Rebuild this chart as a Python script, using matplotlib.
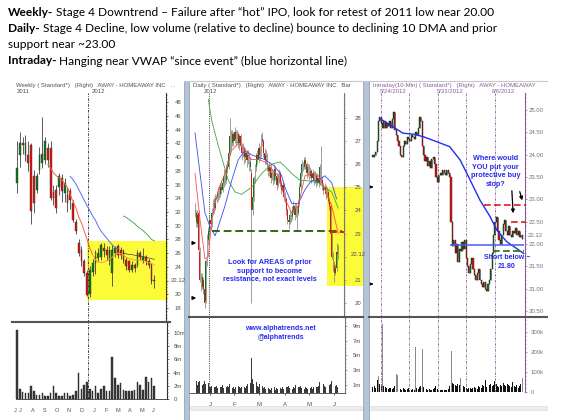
import matplotlib
matplotlib.use('Agg')
import matplotlib.pyplot as plt
import numpy as np
from matplotlib.patches import Rectangle, FancyArrowPatch
from matplotlib.lines import Line2D
from matplotlib.transforms import IdentityTransform
from matplotlib.ticker import MultipleLocator

# ---------------- DATA ----------------
# Weekly OHLC (Jul 2011 - Jun 2012)
w_open = [36.2, 40.3, 42.0, 40.3, 40.3, 41.8, 37.2, 35.2, 38.1, 39.1, 39.6, 41.3, 41.3, 34.9, 35.2, 35.7, 36.9,
          34.7, 34.5, 35.0, 33.3, 30.6, 27.5, 26.5, 24.8, 23.1, 20.0, 23.3, 24.6, 25.3, 25.5, 26.7, 26.5, 24.8,
          23.1, 26.0, 27.0, 26.5, 26.3, 25.0, 24.8, 23.6, 24.3, 24.3, 26.0, 24.8, 25.5, 24.8, 24.3, 21.9]
w_high = [42.3, 43.7, 43.0, 43.2, 42.3, 42.0, 38.1, 37.7, 41.5, 45.8, 43.0, 42.0, 42.3, 36.0, 36.0, 37.7, 37.5,
          37.0, 35.7, 35.5, 33.8, 31.0, 28.0, 27.0, 25.2, 23.6, 24.1, 25.2, 26.5, 26.7, 27.5, 27.5, 27.0, 27.0,
          27.2, 27.0, 27.3, 26.9, 26.6, 25.5, 25.0, 24.8, 24.6, 26.4, 26.3, 26.8, 25.8, 25.2, 24.6, 22.8]
w_low = [34.7, 38.6, 40.5, 39.5, 38.0, 30.3, 31.8, 34.7, 37.5, 38.4, 39.0, 38.6, 33.8, 33.0, 31.8, 34.5, 33.5,
         33.5, 32.0, 32.5, 30.6, 28.8, 25.6, 24.1, 22.6, 19.7, 19.6, 22.6, 23.0, 24.8, 25.0, 25.5, 25.0, 24.3,
         21.2, 25.5, 25.3, 25.2, 24.6, 23.6, 23.3, 23.3, 23.3, 24.0, 25.0, 24.6, 24.3, 23.8, 21.5, 20.9]
w_close = [38.4, 42.0, 41.8, 42.0, 39.1, 32.1, 33.3, 37.2, 40.3, 40.5, 42.3, 39.6, 34.0, 34.0, 32.6, 37.2, 35.0,
           36.2, 33.3, 33.8, 30.9, 29.2, 26.0, 24.8, 23.1, 19.9, 23.6, 24.6, 25.5, 26.0, 27.2, 26.3, 25.8, 26.5,
           26.5, 26.7, 25.8, 25.8, 25.0, 24.1, 23.6, 24.3, 23.8, 26.0, 25.5, 25.5, 24.8, 24.3, 21.9, 22.12]
w_volume_m = [10.5, 1.5, 1.0, 0.9, 0.9, 1.9, 1.25, 0.55, 0.6, 0.9, 0.45, 0.4, 0.9, 1.9, 0.9, 0.5, 0.4, 0.9,
              0.9, 0.5, 0.65, 1.15, 3.9, 1.55, 2.15, 2.65, 1.55, 1.25, 1.9, 0.9, 1.5, 2.0, 1.25, 1.15, 6.4,
              3.15, 2.15, 2.4, 1.4, 1.15, 1.25, 1.25, 1.4, 2.65, 2.15, 1.4, 3.4, 2.65, 3.15, 1.9]
# weekly moving averages (index of first value, values)
w_ma_red_start = 11
w_ma_red = [38.9, 38.4, 37.7, 37.3, 37.0, 36.7, 36.1, 35.6, 34.5, 33.5, 32.6, 31.3, 30.4, 29.2, 28.0, 26.7, 25.8]
w_ma_orange_start = 27
w_ma_orange = [25.8, 25.0, 24.7, 24.6, 24.7, 24.9, 25.1, 25.4, 25.8, 26.0, 25.9, 25.7, 25.4, 25.2, 25.1, 25.0,
               25.0, 25.0, 24.9, 24.8, 24.6, 24.5, 24.3]
w_ma_blue_start = 19
w_ma_blue = [37.2, 36.7, 36.1, 35.3, 34.5, 33.7, 32.9, 32.2, 31.4, 30.8, 29.9, 29.2, 28.7, 28.2, 27.7, 27.2,
             26.8, 26.6]
w_ma_dark_start = 38
w_ma_dark = [26.0, 25.9, 25.8, 25.8, 25.7, 25.6, 25.6, 25.5, 25.4, 25.3, 25.2, 25.1]
w_ma_green_start = 38
w_ma_green = [31.4, 31.2, 30.9, 30.6, 30.3, 29.9, 29.6, 29.3, 28.9, 28.5, 28.0, 27.8]
w_price_ticks = [18, 20, 22, 24, 26, 28, 30, 32, 34, 36, 38, 40, 42, 44, 46, 48]
w_price_labels = ["18", "20", "", "24", "26", "28", "30", "32", "34", "36", "38", "40", "42", "44", "46", "48"]
w_vol_ticks = [0, 2, 4, 6, 8, 10]
w_vol_labels = ["0", "2m", "4m", "6m", "8m", "10m"]
w_month_labels = ["J", "J", "A", "S", "O", "N", "D", "J", "F", "M", "A", "M", "J"]
w_month_pos = [-0.5, 1.0, 5.5, 10.0, 14.3, 18.5, 23.0, 27.4, 31.8, 36.0, 40.3, 44.6, 48.8]

# Daily OHLC (mid Dec 2011 - Jun 2012)
d_open = [24.1, 23.9, 23.4, 23.9, 22.2, 21.1, 20.7, 21.0, 20.6, 20.1, 21.8, 22.7, 23.1, 23.6, 23.4, 23.9, 24.3,
          24.1, 24.5, 24.6, 24.8, 24.7, 25.0, 24.9, 25.2, 25.5, 25.3, 25.8, 25.9, 26.5, 27.2, 26.9, 27.3, 27.0,
          27.4, 27.1, 27.3, 26.9, 27.2, 26.8, 26.5, 26.7, 26.3, 26.5, 26.2, 26.4, 25.9, 25.6, 24.0, 24.6, 25.4,
          25.9, 26.4, 26.2, 26.7, 26.4, 27.1, 27.0, 26.5, 26.2, 26.4, 25.9, 25.7, 25.9, 25.4, 25.6, 25.3, 25.8,
          25.5, 25.1, 25.4, 25.6, 25.2, 24.9, 25.1, 24.6, 24.5, 24.0, 23.6, 23.5, 23.8, 23.7, 24.0, 24.2, 23.8,
          24.1, 23.9, 24.3, 25.0, 25.6, 26.0, 25.9, 26.2, 26.0, 25.6, 25.9, 25.5, 25.7, 25.4, 25.6, 25.3, 25.5,
          25.2, 25.4, 25.2, 26.4, 25.3, 25.1, 24.9, 25.0, 24.7, 24.8, 24.4, 24.2, 23.0, 22.0, 21.6, 21.3, 21.5,
          22.2]
d_high = [24.3, 24.0, 24.0, 24.0, 22.4, 21.3, 21.3, 21.1, 20.8, 21.9, 23.0, 23.3, 23.8, 23.8, 24.1, 24.5, 24.6,
          24.7, 24.8, 25.0, 25.1, 25.2, 25.3, 25.4, 25.8, 25.7, 26.0, 26.2, 26.8, 28.0, 27.5, 27.5, 27.4, 27.6,
          27.5, 27.5, 27.4, 27.3, 27.3, 26.9, 26.9, 26.8, 26.7, 26.6, 26.6, 26.5, 26.3, 25.8, 24.8, 25.5, 26.0,
          26.5, 26.6, 26.9, 26.8, 27.3, 27.4, 27.1, 26.7, 26.6, 26.5, 26.0, 26.1, 26.0, 25.8, 25.7, 26.0, 25.9,
          25.6, 25.6, 25.8, 25.7, 25.3, 25.3, 25.2, 24.8, 24.6, 24.1, 23.8, 24.0, 23.9, 24.2, 24.4, 24.3, 24.3,
          24.2, 24.5, 25.2, 25.8, 26.2, 26.1, 26.3, 26.3, 26.1, 26.0, 26.0, 25.9, 25.8, 25.8, 25.7, 25.7, 25.6,
          25.6, 25.5, 26.0, 26.8, 25.5, 25.2, 25.2, 25.1, 25.0, 24.9, 24.6, 24.3, 23.1, 22.2, 21.8, 21.7, 22.6,
          22.5]
d_low = [23.7, 23.3, 23.3, 22.2, 20.9, 20.5, 20.6, 20.4, 19.8, 20.0, 21.6, 22.5, 22.9, 23.2, 23.3, 23.8, 23.9,
         24.0, 24.3, 24.4, 24.5, 24.6, 24.7, 24.8, 25.0, 25.1, 25.2, 25.6, 25.8, 26.4, 26.6, 26.8, 26.8, 26.9,
         26.8, 26.9, 26.7, 26.6, 26.6, 26.2, 26.3, 26.0, 26.1, 25.9, 26.0, 25.7, 25.7, 20.0, 23.8, 24.4, 25.2,
         25.7, 26.0, 26.1, 26.2, 26.3, 26.8, 26.3, 26.0, 26.0, 25.7, 25.5, 25.5, 25.2, 25.3, 25.1, 25.2, 25.3,
         24.9, 25.0, 25.2, 25.0, 24.7, 24.8, 24.4, 24.3, 23.8, 23.4, 23.2, 23.4, 23.5, 23.6, 23.9, 23.6, 23.7,
         23.1, 23.8, 24.2, 24.9, 25.5, 25.7, 25.8, 25.8, 25.4, 25.5, 25.3, 25.4, 25.2, 25.3, 25.1, 25.2, 25.0,
         25.1, 25.0, 25.1, 25.2, 24.9, 24.7, 24.8, 24.5, 24.6, 24.3, 24.0, 22.9, 21.9, 21.4, 20.9, 21.2, 21.4,
         21.9]
d_close = [23.9, 23.5, 23.8, 22.3, 21.0, 20.7, 21.1, 20.6, 20.0, 21.8, 22.8, 23.1, 23.6, 23.4, 23.9, 24.3, 24.1,
           24.5, 24.6, 24.8, 24.7, 25.0, 24.9, 25.2, 25.5, 25.3, 25.8, 25.9, 26.5, 27.2, 26.9, 27.3, 27.0, 27.4,
           27.1, 27.3, 26.9, 27.2, 26.8, 26.5, 26.7, 26.3, 26.5, 26.2, 26.4, 25.9, 26.1, 24.0, 24.6, 25.4, 25.9,
           26.4, 26.2, 26.7, 26.4, 27.1, 27.0, 26.5, 26.2, 26.4, 25.9, 25.7, 25.9, 25.4, 25.6, 25.3, 25.8, 25.5,
           25.1, 25.4, 25.6, 25.2, 24.9, 25.1, 24.6, 24.5, 24.0, 23.6, 23.5, 23.8, 23.7, 24.0, 24.2, 23.8, 24.1,
           23.9, 24.3, 25.0, 25.6, 26.0, 25.9, 26.2, 26.0, 25.6, 25.9, 25.5, 25.7, 25.4, 25.6, 25.3, 25.5, 25.2,
           25.4, 25.2, 25.9, 25.3, 25.1, 24.9, 25.0, 24.7, 24.8, 24.4, 24.2, 23.0, 22.0, 21.6, 21.3, 21.5, 22.2,
           22.12]
d_volume_m = [1.2, 1.5, 1.0, 1.4, 1.6, 1.3, 1.0, 1.2, 1.5, 1.1, 0.9, 1.3, 0.8, 0.7, 0.9, 0.6, 0.8, 0.7, 0.9,
              0.6, 0.5, 0.8, 0.7, 1.0, 0.6, 0.5, 0.7, 0.9, 0.8, 1.2, 0.9, 0.6, 0.7, 0.5, 0.8, 0.6, 0.9, 0.7,
              0.6, 0.8, 0.5, 0.7, 0.6, 0.9, 1.1, 0.8, 1.3, 4.7, 1.8, 1.2, 1.0, 1.4, 0.9, 0.8, 1.1, 0.7, 0.9,
              0.6, 0.8, 0.5, 0.7, 0.6, 0.5, 0.4, 0.6, 0.5, 0.7, 0.4, 0.6, 0.5, 0.4, 0.6, 0.5, 0.7, 0.5, 0.6,
              0.8, 0.7, 0.9, 0.6, 0.7, 0.5, 0.8, 0.6, 1.0, 1.2, 0.8, 0.7, 0.9, 0.6, 0.8, 0.5, 0.7, 0.6, 0.5,
              0.7, 0.6, 0.8, 0.5, 0.7, 0.6, 0.8, 0.7, 0.9, 1.4, 1.0, 0.8, 1.2, 0.9, 0.8, 1.1, 0.9, 1.0, 1.2,
              1.6, 1.3, 1.1, 0.9, 1.0, 0.8]
# daily moving averages: (day index, value)
d_ma_green_x = [11.1, 13.9, 19.4, 27.8, 33.3, 38.9, 47.2, 55.6, 63.9, 70.8, 75.0, 80.6, 87.5, 91.7, 102.8, 108.3,
                113.9, 119.4]
d_ma_green_y = [28.8, 27.9, 26.8, 25.3, 24.8, 24.7, 25.0, 25.6, 26.0, 26.1, 25.9, 25.6, 25.3, 25.3, 25.2, 25.0,
                24.8, 24.1]
d_ma_blue_x = [0, 4.2, 8.3, 12.5, 16.7, 19.4, 25.0, 30.6, 36.1, 41.7, 47.2, 52.8, 58.3, 66.7, 72.2, 75.0, 80.6,
               86.1, 91.7, 97.2, 102.8, 108.3, 113.9, 118.0]
d_ma_blue_y = [27.35, 25.6, 23.9, 23.3, 22.9, 23.3, 24.2, 25.3, 26.2, 26.6, 26.4, 26.3, 26.2, 25.9, 25.5, 25.0,
               24.3, 24.3, 24.9, 25.3, 25.3, 25.5, 25.2, 24.5]
d_ma_red_x = [0, 4.2, 8.3, 11.1, 13.9, 19.4, 25.0, 30.6, 36.1, 41.7, 47.2, 52.8, 58.3, 63.9, 69.4, 75.0, 80.6,
              86.1, 91.7, 97.2, 102.8, 108.3, 113.9, 119.4]
d_ma_red_y = [25.6, 23.6, 21.9, 22.0, 23.6, 24.9, 25.6, 26.6, 26.9, 26.6, 26.2, 26.2, 26.1, 25.8, 25.5, 24.5,
              23.9, 24.2, 25.5, 25.6, 25.5, 24.9, 24.2, 23.0]
d_price_ticks = [20, 21, 22, 23, 24, 25, 26, 27, 28]
d_price_labels = ["20", "21", "", "23", "24", "25", "26", "27", "28"]
d_vol_ticks = [1, 3, 5, 7, 9]
d_vol_labels = ["1m", "3m", "5m", "7m", "9m"]
d_month_labels = ["J", "F", "M", "A", "M", "J"]
d_month_pos = [12.5, 32.5, 53.5, 75.0, 95.0, 116.0]
d_support = 23.13
d_resist = 23.05

# Intraday 10-min (closes, compressed), 5/23 - 6/7/2012
i_close = [23.95, 24.0, 24.05, 24.3, 24.75, 24.85, 24.7, 24.6, 24.75, 24.6, 24.7, 24.65, 24.75, 24.6, 24.8,
           24.95, 24.55, 24.45, 24.3, 24.2, 24.0, 23.95, 24.2, 24.3, 24.25, 24.4, 24.35, 24.3, 24.45, 24.4,
           24.35, 24.5, 24.45, 24.6, 24.85, 24.75, 24.2, 24.0, 23.85, 23.95, 23.75, 23.85, 23.7, 23.9, 23.95,
           23.8, 23.5, 23.4, 23.55, 23.6, 23.55, 23.65, 23.6, 23.55, 23.65, 23.6, 23.5, 22.5, 21.95, 22.1, 21.8,
           22.0, 21.6, 21.9, 21.85, 22.05, 21.9, 22.1, 21.7, 21.5, 21.35, 21.55, 21.7, 21.45, 21.3, 21.2, 21.35,
           21.45, 21.2, 21.1, 21.05, 21.15, 21.0, 20.95, 21.1, 21.2, 21.45, 21.8, 22.2, 22.5, 22.6, 22.3, 22.1,
           22.0, 22.2, 22.45, 22.55, 22.3, 22.2, 22.4, 22.2, 22.15, 22.3, 22.25, 22.35, 22.2, 22.3, 22.15, 22.2,
           22.12]
i_volume_k = [25, 30, 20, 60, 80, 40, 35, 340, 30, 25, 20, 15, 18, 22, 15, 20, 30, 90, 85, 20, 15, 12, 18, 14,
              12, 15, 20, 12, 10, 15, 12, 225, 20, 15, 25, 30, 215, 25, 18, 15, 12, 14, 10, 12, 15, 18, 30, 14,
              12, 10, 12, 8, 10, 12, 9, 15, 30, 205, 45, 40, 35, 30, 40, 35, 70, 40, 30, 25, 20, 15, 18, 22, 15,
              20, 25, 18, 15, 30, 25, 20, 35, 30, 60, 25, 30, 35, 40, 30, 35, 55, 40, 30, 25, 35, 30, 45, 35,
              30, 40, 35, 30, 25, 50, 30, 25, 35, 20, 30, 40, 70]
i_vwap_x = [5, 22, 29.5, 37, 46.6, 56, 63.7, 71, 78, 85.6, 90.5, 97.8, 105, 110]
i_vwap_y = [24.81, 24.48, 24.46, 24.40, 24.29, 24.18, 23.88, 23.43, 22.99, 22.61, 22.31, 22.05, 21.90, 21.79]
i_price_ticks = [20.5, 21.0, 21.5, 22.0, 22.5, 23.0, 23.5, 24.0, 24.5, 25.0]
i_vol_ticks = [0, 100, 200, 300]
i_vol_labels = ["0", "100k", "200k", "300k"]
i_day_sep = [5.8, 26.3, 47.4, 67.9, 89.1]
i_date_labels = ["5/24/2012", "5/31/2012", "6/6/2012"]
i_date_pos = [14.6, 56.2, 95.0]
i_vwap_event = 21.97
i_green_stop = 21.85
i_red_stop1 = 22.87
i_red_stop2 = 22.49
last_price = 22.12

# ---------------- FIGURE ----------------
W, H = 561, 420
fig = plt.figure(figsize=(W / 100, H / 100), dpi=100)
fig.patch.set_facecolor('white')

GREEN = '#0e7a12'
RED = '#e3120f'
GRAY_T = '#505050'
PURPLE = '#8c5a9c'
PURPLE_T = '#7a6a80'
BLUE_T = '#2a2af0'
TF = 'Liberation Sans'


def ax_px(x0, y0, x1, y1):
    a = fig.add_axes([x0 / W, 1 - y1 / H, (x1 - x0) / W, (y1 - y0) / H])
    a.patch.set_alpha(0)
    for s in ['left', 'top', 'bottom']:
        a.spines[s].set_visible(False)
    a.set_xticks([])
    a.yaxis.tick_right()
    return a


def style_y(a, ticks, labels, color, lcolor, minor, pad, length=1.5):
    a.spines['right'].set_color(color)
    a.spines['right'].set_linewidth(0.8)
    a.set_yticks(ticks)
    a.set_yticklabels(labels, fontsize=4.3, color=lcolor, family=TF)
    a.yaxis.set_minor_locator(MultipleLocator(minor))
    a.tick_params(axis='y', which='major', length=length, width=0.5, color=color, pad=pad)
    a.tick_params(axis='y', which='minor', length=1.0, width=0.4, color=color)


def candles(a, o, h, l, c, width, edge, wick, lw):
    o = np.asarray(o, float); c = np.asarray(c, float)
    x = np.arange(len(o))
    a.vlines(x, l, h, color=wick, lw=lw, zorder=3)
    cols = [GREEN if cc >= oo else RED for oo, cc in zip(o, c)]
    hgt = np.maximum(np.abs(c - o), 0.04)
    a.bar(x, hgt, bottom=np.minimum(o, c), width=width, color=cols, edgecolor=edge,
          linewidth=0.3 if edge != 'none' else 0, zorder=4)


def ftext(x, y, s, **kw):
    return fig.text(x / W, 1 - y / H, s, **kw)


def farrow(x0, y0, x1, y1, ms=5, lw=0.9):
    fig.add_artist(FancyArrowPatch((x0, H - y0), (x1, H - y1), transform=IdentityTransform(),
                                   arrowstyle='-|>', mutation_scale=ms, color='black', lw=lw))


def fline(x0, y0, x1, y1, **kw):
    fig.add_artist(Line2D([x0, x1], [H - y0, H - y1], transform=IdentityTransform(), **kw))


# ---- panel chrome ----
fline(184, 81, 547, 81, color='#c8c8c8', lw=0.8)
fline(12, 322, 170, 322, color='#555555', lw=1.5)
fline(189, 317, 363, 317, color='#555555', lw=1.5)
fline(369, 317, 547, 317, color='#555555', lw=1.5)
for x0, x1 in [(189, 363), (369, 547)]:
    fig.add_artist(Rectangle((x0, H - 410), x1 - x0, 4, transform=IdentityTransform(),
                             facecolor='#ececec', edgecolor='#d8d8d8', lw=0.4))

# ---- top commentary text ----
lines = [("Weekly-", " Stage 4 Downtrend \u2013 Failure after \u201chot\u201d IPO, look for retest of 2011 low near 20.00", 12),
         ("Daily-", " Stage 4 Decline, low volume (relative to decline) bounce to declining 10 DMA and prior", 28.5),
         ("", "support near ~23.00", 44.5),
         ("Intraday-", " Hanging near VWAP \u201csince event\u201d (blue horizontal line)", 61)]
fig.canvas.draw()
rend = fig.canvas.get_renderer()
TOPF = 'Lato'
TOPS = 8.55
for b, rest, y in lines:
    x = 8
    if b:
        tb = ftext(x, y, b, fontsize=TOPS, fontweight='bold', family=TOPF, va='center', color='black')
        x = tb.get_window_extent(rend).x1
    ftext(x, y, rest, fontsize=TOPS, family=TOPF, va='center', color='black')

# ---------------- WEEKLY ----------------
wx0 = -1.1
wx1 = 53.2
axw = ax_px(14, 93, 166, 322)
axw.set_xlim(wx0, wx1)
axw.set_ylim(15.96, 49.35)
style_y(axw, w_price_ticks, w_price_labels, '#333333', GRAY_T, 0.5, pad=4.5)
axw.add_patch(Rectangle((24.8, 19.1), 29.2, 27.7 - 19.1, facecolor='#fbfb3a', edgecolor='none',
                        zorder=1, clip_on=False))
candles(axw, w_open, w_high, w_low, w_close, 0.62, '#303030', '#404040', 0.6)
axw.plot(range(w_ma_red_start, w_ma_red_start + len(w_ma_red)), w_ma_red, color='#ff5a4a', lw=0.7, zorder=5)
axw.plot(range(w_ma_orange_start, w_ma_orange_start + len(w_ma_orange)), w_ma_orange, color='#ff9a30', lw=0.7,
         zorder=5)
axw.plot(range(w_ma_blue_start, w_ma_blue_start + len(w_ma_blue)), w_ma_blue, color='#5a6cf0', lw=0.7, zorder=5)
axw.plot(range(w_ma_dark_start, w_ma_dark_start + len(w_ma_dark)), w_ma_dark, color='#404040', lw=0.5, zorder=5)
axw.plot(range(w_ma_green_start, w_ma_green_start + len(w_ma_green)), w_ma_green, color='#3a9a3a', lw=0.6,
         zorder=5)
ftext(171, 102.3 + (48 - last_price) * 6.87, "22.12", fontsize=4.3, color=GRAY_T, va='center', family=TF)

axwv = ax_px(14, 322, 167, 399)
axwv.set_xlim(wx0, wx1 + 0.36)
axwv.set_ylim(0, 11.67)
style_y(axwv, w_vol_ticks, w_vol_labels, '#333333', GRAY_T, 0.5, pad=3)
axwv.bar(range(len(w_volume_m)), w_volume_m, width=0.55, color='#3a3a3a', edgecolor='#222222', lw=0.3)
axwv.spines['bottom'].set_visible(True)
axwv.spines['bottom'].set_color('#333333')
axwv.spines['bottom'].set_linewidth(0.6)
axwv.spines['bottom'].set_bounds(-0.5, 53.5)
for xp, lab in zip(w_month_pos, w_month_labels):
    axwv.text(xp, -0.12, lab, fontsize=4, color=GRAY_T, ha='center', va='top', family=TF,
              transform=axwv.get_xaxis_transform(), clip_on=False)
for a in (axw, axwv):
    a.axvline(25.5, color='#222222', lw=0.6, ls=(0, (3, 1.5, 1, 1.5)), zorder=2)
ftext(16, 85, "Weekly ( Standard*)   (Right)   AWAY - HOMEAWAY INC   . .", fontsize=4.3, color=GRAY_T,
      va='center', family=TF)
ftext(17, 91.5, "2011", fontsize=4.3, color=GRAY_T, va='center', family=TF)
ftext(92, 91.5, "2012", fontsize=4.3, color=GRAY_T, va='center', family=TF)

# ---------------- DAILY ----------------
dx0, dx1 = -5, 124.2
axd = ax_px(189, 93, 344, 317)
axd.set_xlim(dx0, dx1)
axd.set_ylim(19.39, 29.08)
style_y(axd, d_price_ticks, d_price_labels, '#777777', GRAY_T, 0.1, pad=6.3)
axd.add_patch(Rectangle((110.0, 20.72), 140 - 110.0, 25.0 - 20.72, facecolor='#fbfb3a', edgecolor='none',
                        zorder=1, clip_on=False))
candles(axd, d_open, d_high, d_low, d_close, 0.75, 'none', '#6a6a6a', 0.45)
axd.plot(d_ma_green_x, d_ma_green_y, color='#3aaa3a', lw=0.6, zorder=5)
axd.plot(d_ma_blue_x, d_ma_blue_y, color='#3a4af0', lw=0.6, zorder=5)
axd.plot(d_ma_red_x, d_ma_red_y, color='#ff4a4a', lw=0.6, zorder=5)
axd.hlines(d_support, 14, 122.5, color='#2e6a10', lw=1.4, ls=(0, (4, 2)), zorder=6)
axd.hlines(d_resist, 113, 124.5, color='#e31a1a', lw=1.4, ls=(0, (3, 1.5)), zorder=6, clip_on=False)
ftext(351, 303 - (last_price - 20) * 23.1, "22.12", fontsize=4.3, color=GRAY_T, va='center', family=TF)
axd.text(0.52, 0.205, "Look for AREAS of prior\nsupport to become\nresistance, not exact levels",
         transform=axd.transAxes, ha='center', va='center', fontsize=5.2, fontweight='bold', color=BLUE_T,
         family=TF, linespacing=1.25)

axdv = ax_px(189, 317, 345, 392.5)
axdv.set_xlim(dx0, dx1 + 0.83)
axdv.set_ylim(0, 10.2)
style_y(axdv, d_vol_ticks, d_vol_labels, '#777777', GRAY_T, 0.5, pad=4)
axdv.bar(range(len(d_volume_m)), d_volume_m, width=0.55, color='#3a3a3a', lw=0)
axdv.spines['bottom'].set_visible(True)
axdv.spines['bottom'].set_color('#444444')
axdv.spines['bottom'].set_linewidth(0.6)
axdv.set_xticks(d_month_pos)
axdv.set_xticklabels(d_month_labels, fontsize=4.3, color=GRAY_T, family=TF)
axdv.tick_params(axis='x', length=1.5, width=0.4, pad=5)
axdv.text(0.587, 0.79, "www.alphatrends.net\n@alphatrends", transform=axdv.transAxes, ha='center', va='center',
          fontsize=5.0, fontweight='bold', color=BLUE_T, family=TF, linespacing=1.35)
for a in (axd, axdv):
    a.axvline(11.7, color='#444444', lw=0.6, ls=(0, (1.5, 1.2)), zorder=2)
ftext(193, 85, "Daily ( Standard*)   (Right)   AWAY - HOMEAWAY INC   Bar", fontsize=4.3, color=GRAY_T,
      va='center', family=TF)
ftext(204, 91.5, "2012", fontsize=4.3, color=GRAY_T, va='center', family=TF)
farrow(190, 243, 199, 243, ms=5, lw=0.9)
farrow(190, 298, 199, 298, ms=5, lw=0.9)

# ---------------- INTRADAY ----------------
ix0, ix1 = -2.9, 111.0
axi = ax_px(369, 93, 525, 317)
axi.set_xlim(ix0, ix1)
axi.set_ylim(20.37, 25.38)
style_y(axi, i_price_ticks, ["%.2f" % t for t in i_price_ticks], PURPLE, PURPLE_T, 0.1, pad=1.2)
i_open = [i_close[0]] + i_close[:-1]
i_hi = [max(o, c) for o, c in zip(i_open, i_close)]
i_lo = [min(o, c) for o, c in zip(i_open, i_close)]
candles(axi, i_open, i_hi, i_lo, i_close, 0.8, '#1a1a1a', '#333333', 0.4)
axi.plot(i_vwap_x, i_vwap_y, color='#1f2ff0', lw=1.0, zorder=6)
axi.hlines(i_vwap_event, 56, 110.5, color='#4a5af5', lw=1.1, zorder=6)
axi.hlines(i_green_stop, 88, 110.5, color='#2e6a10', lw=1.2, ls=(0, (4, 2)), zorder=6)
axi.hlines(i_red_stop1, 81, 111.5, color='#e31a1a', lw=1.2, ls=(0, (4, 2)), zorder=6, clip_on=False)
axi.hlines(i_red_stop2, 101, 111.5, color='#e31a1a', lw=1.2, ls=(0, (4, 2)), zorder=6, clip_on=False)
ftext(528, 110 + (25 - last_price) * 44.7 - 3.5, "22.12", fontsize=4.3, color=PURPLE_T, va='center', family=TF)
axi.text(0.81, 0.65, "Where would\nYOU put your\nprotective buy\nstop?", transform=axi.transAxes, ha='center',
         va='center', fontsize=5.2, fontweight='bold', color=BLUE_T, family=TF, linespacing=1.3)
axi.text(0.885, 0.245, "Short below ~\n21.80", transform=axi.transAxes, ha='center', va='center',
         fontsize=5.0, fontweight='bold', color=BLUE_T, family=TF, linespacing=1.3)

axiv = ax_px(369, 317, 525, 392)
axiv.set_xlim(ix0, ix1)
axiv.set_ylim(0, 375)
style_y(axiv, i_vol_ticks, i_vol_labels, PURPLE, PURPLE_T, 20, pad=2.5)
vcols = ['#8a8a8a' if v > 60 else '#111111' for v in i_volume_k]
axiv.bar(range(len(i_volume_k)), i_volume_k, width=0.7, color=vcols, lw=0)
axiv.axhline(0, color=PURPLE, lw=0.8, ls=(0, (1, 1)))
for a in (axi, axiv):
    for xs in i_day_sep:
        a.axvline(xs, color=PURPLE, lw=0.6, ls=(0, (3, 1.5, 1, 1.5)), zorder=2)
ftext(373, 85, "Intraday(10-Min) ( Standard*)   (Right)   AWAY - HOMEAWAY", fontsize=4.3, color=PURPLE,
      va='center', family=TF)
for xp, lab in zip(i_date_pos, i_date_labels):
    xpix = 369 + (xp - ix0) / (ix1 - ix0) * (525 - 369)
    ftext(xpix, 91.5, lab, fontsize=4.3, color=PURPLE, va='center', ha='center', family=TF)
farrow(369, 187, 376, 187, ms=5, lw=0.9)
farrow(369, 284, 376, 284, ms=5, lw=0.9)
farrow(511.7, 188, 513.3, 216, ms=5, lw=0.9)
farrow(519, 189, 523, 203, ms=5, lw=0.9)

# separators drawn last so they sit on top
fig.add_artist(Rectangle((184, 0), 5, H - 81, transform=IdentityTransform(), facecolor='#b4c4d6',
                         edgecolor='#8898aa', lw=0.5))
fig.add_artist(Rectangle((363, 0), 6, H - 81, transform=IdentityTransform(), facecolor='#b4c4d6',
                         edgecolor='#8898aa', lw=0.5))

fig.savefig('out.png', dpi=100, facecolor='white')
